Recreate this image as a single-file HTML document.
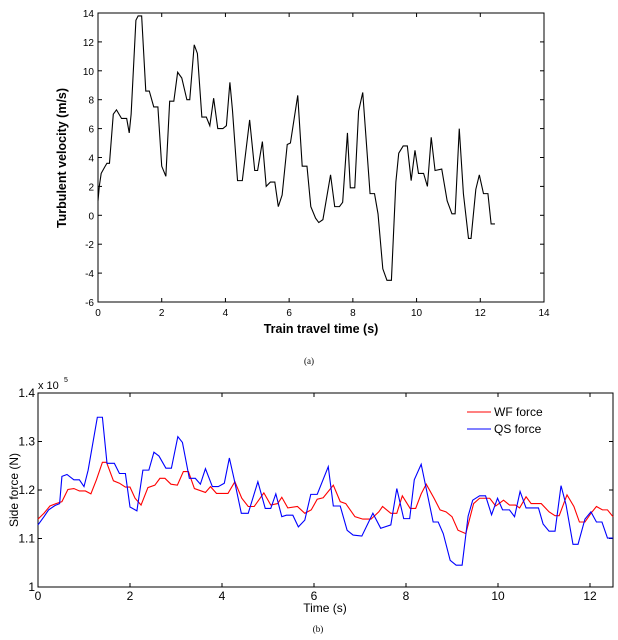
<!DOCTYPE html>
<html><head><meta charset="utf-8"><style>
body{margin:0;background:#fff;width:618px;height:640px;overflow:hidden}
svg{display:block;font-family:"Liberation Sans",Arial,sans-serif}
</style></head><body>
<svg id="s" width="618" height="640"></svg>
<script>
const topT=[0,0.04,0.1,0.2,0.28,0.36,0.48,0.58,0.74,0.9,0.98,1.04,1.19,1.26,1.37,1.5,1.61,1.75,1.88,2.0,2.13,2.25,2.38,2.5,2.63,2.79,2.88,3.02,3.12,3.26,3.4,3.51,3.63,3.76,3.92,4.03,4.14,4.22,4.38,4.53,4.76,4.92,5.01,5.16,5.28,5.41,5.55,5.66,5.78,5.94,6.04,6.27,6.41,6.56,6.68,6.83,6.93,7.06,7.3,7.43,7.58,7.68,7.83,7.92,8.06,8.18,8.31,8.54,8.68,8.79,8.94,9.07,9.21,9.35,9.44,9.58,9.71,9.83,9.95,10.06,10.22,10.34,10.46,10.58,10.79,10.96,11.11,11.21,11.34,11.47,11.63,11.71,11.86,11.97,12.1,12.24,12.34,12.46];
const topV=[1.0,2,2.9,3.3,3.6,3.6,7.0,7.3,6.7,6.7,5.7,7.0,13.5,13.8,13.8,8.6,8.6,7.5,7.5,3.4,2.7,7.9,7.9,9.9,9.5,8.0,8.0,11.8,11.2,6.8,6.8,6.2,8.1,6.0,6.0,6.2,9.2,7.3,2.4,2.4,6.6,3.1,3.1,5.1,2.0,2.3,2.3,0.6,1.4,4.9,5.0,8.3,3.4,3.4,0.6,-0.2,-0.5,-0.3,2.8,0.6,0.6,0.9,5.7,1.9,1.9,7.2,8.5,1.5,1.5,0.1,-3.7,-4.5,-4.5,2.3,4.3,4.8,4.8,2.4,4.5,2.9,2.9,2.0,5.4,3.1,3.2,1.0,0.1,0.1,6.0,1.5,-1.6,-1.6,1.8,2.8,1.5,1.5,-0.6,-0.6];
const qsT=[0,0.13,0.23,0.37,0.47,0.52,0.63,0.78,0.9,1.0,1.09,1.29,1.4,1.5,1.66,1.77,1.9,2.0,2.15,2.28,2.41,2.52,2.63,2.78,2.9,3.04,3.14,3.29,3.42,3.53,3.64,3.79,3.92,4.05,4.16,4.26,4.42,4.57,4.78,4.94,5.06,5.17,5.3,5.4,5.54,5.66,5.8,5.93,6.07,6.31,6.42,6.57,6.72,6.85,7.04,7.28,7.45,7.67,7.8,7.95,8.08,8.18,8.33,8.59,8.7,8.81,8.96,9.09,9.22,9.35,9.45,9.6,9.73,9.86,9.99,10.1,10.25,10.36,10.48,10.61,10.88,10.98,11.11,11.24,11.37,11.48,11.63,11.74,11.89,12.02,12.14,12.26,12.38,12.5];
const qsV=[1.128,1.145,1.159,1.168,1.172,1.228,1.232,1.221,1.221,1.207,1.241,1.35,1.35,1.255,1.255,1.234,1.234,1.165,1.157,1.241,1.241,1.278,1.27,1.245,1.245,1.31,1.298,1.224,1.224,1.212,1.244,1.207,1.207,1.214,1.266,1.224,1.152,1.152,1.217,1.162,1.162,1.192,1.145,1.148,1.148,1.124,1.138,1.191,1.191,1.248,1.167,1.167,1.117,1.107,1.105,1.152,1.121,1.128,1.203,1.141,1.141,1.221,1.253,1.134,1.134,1.11,1.055,1.045,1.045,1.146,1.179,1.188,1.188,1.149,1.183,1.159,1.159,1.145,1.197,1.163,1.163,1.13,1.115,1.115,1.209,1.169,1.088,1.088,1.14,1.155,1.134,1.134,1.101,1.101];
const wfT=[0,0.13,0.26,0.39,0.52,0.65,0.78,0.9,1.03,1.15,1.27,1.4,1.49,1.64,1.77,1.9,2.0,2.11,2.24,2.39,2.54,2.65,2.76,2.89,3.03,3.16,3.27,3.4,3.64,3.75,3.88,4.13,4.28,4.43,4.57,4.7,4.91,5.06,5.21,5.3,5.43,5.64,5.8,5.94,6.07,6.2,6.42,6.57,6.69,6.89,7.06,7.24,7.41,7.49,7.67,7.8,7.92,8.09,8.21,8.33,8.44,8.61,8.74,8.87,9.0,9.13,9.3,9.47,9.6,9.82,9.95,10.12,10.25,10.38,10.47,10.61,10.72,10.94,11.11,11.24,11.33,11.5,11.65,11.77,11.89,12.02,12.14,12.27,12.38,12.5];
const wfV=[1.14,1.152,1.167,1.172,1.176,1.201,1.203,1.198,1.198,1.192,1.221,1.257,1.257,1.219,1.214,1.206,1.206,1.183,1.169,1.205,1.21,1.224,1.224,1.212,1.21,1.238,1.238,1.203,1.195,1.207,1.193,1.193,1.217,1.183,1.166,1.166,1.194,1.169,1.172,1.185,1.163,1.166,1.152,1.159,1.181,1.184,1.21,1.176,1.172,1.145,1.14,1.14,1.155,1.166,1.152,1.152,1.188,1.162,1.162,1.192,1.212,1.183,1.159,1.155,1.145,1.117,1.11,1.172,1.183,1.183,1.167,1.179,1.169,1.169,1.163,1.186,1.172,1.172,1.155,1.147,1.147,1.19,1.166,1.134,1.134,1.152,1.166,1.159,1.159,1.145];
const topXTicks=[0,2,4,6,8,10,12,14];
const topYTicks=[-6,-4,-2,0,2,4,6,8,10,12,14];
const botXTicks=[0,2,4,6,8,10,12];
const botYTicks=["1","1.1","1.2","1.3","1.4"];

const S=document.getElementById('s');const NS='http://www.w3.org/2000/svg';
function mk(tag,attrs,name,txt){const e=document.createElementNS(NS,tag);for(const k in attrs)e.setAttribute(k,attrs[k]);


if(txt!==undefined)e.textContent=txt;S.appendChild(e);return e;}

// top chart
const A={x0:98,x1:544,y0:13,y1:302,xmin:0,xmax:14,ymin:-6,ymax:14};
const ax=t=>A.x0+(t-A.xmin)/(A.xmax-A.xmin)*(A.x1-A.x0);
const ay=v=>A.y1-(v-A.ymin)/(A.ymax-A.ymin)*(A.y1-A.y0);
mk('rect',{x:A.x0,y:A.y0,width:A.x1-A.x0,height:A.y1-A.y0,fill:'none',stroke:'#000','stroke-width':1},'top-plot-frame');
topXTicks.forEach(t=>{const x=ax(t);
mk('line',{x1:x,x2:x,y1:A.y1,y2:A.y1-4,stroke:'#000'},'top-x-tick');
mk('line',{x1:x,x2:x,y1:A.y0,y2:A.y0+4,stroke:'#000'},'top-x-tick-top');
mk('text',{x:x,y:A.y1+14,'font-size':10,'text-anchor':'middle'},'top-x-tick-label',String(t));});
topYTicks.forEach(v=>{const y=ay(v);
mk('line',{x1:A.x0,x2:A.x0+4,y1:y,y2:y,stroke:'#000'},'top-y-tick');
mk('line',{x1:A.x1,x2:A.x1-4,y1:y,y2:y,stroke:'#000'},'top-y-tick-right');
mk('text',{x:A.x0-4,y:y+4,'font-size':10,'text-anchor':'end'},'top-y-tick-label',String(v));});
mk('polyline',{points:topT.map((t,i)=>ax(t)+','+ay(topV[i])).join(' '),fill:'none',stroke:'#000','stroke-width':1.1},'turbulent-velocity-line');
mk('text',{x:321,y:333,'font-size':12.5,'font-weight':'bold','text-anchor':'middle'},'top-x-axis-title','Train travel time (s)');
mk('text',{x:0,y:0,'font-size':12.5,'font-weight':'bold','text-anchor':'middle',transform:'translate(66,158) rotate(-90)'},'top-y-axis-title','Turbulent velocity (m/s)');
mk('text',{x:309,y:364,'font-size':9,'text-anchor':'middle','font-family':'Liberation Serif,serif'},'caption-a','(a)');

// bottom chart
const B={x0:38,x1:613,y0:393,y1:587,xmin:0,xmax:12.5,ymin:1,ymax:1.4};
const bx=t=>B.x0+(t-B.xmin)/(B.xmax-B.xmin)*(B.x1-B.x0);
const by=v=>B.y1-(v-B.ymin)/(B.ymax-B.ymin)*(B.y1-B.y0);
mk('rect',{x:B.x0,y:B.y0,width:B.x1-B.x0,height:B.y1-B.y0,fill:'none',stroke:'#000','stroke-width':1},'bottom-plot-frame');
botXTicks.forEach(t=>{const x=bx(t);
mk('line',{x1:x,x2:x,y1:B.y1,y2:B.y1-4,stroke:'#000'},'bottom-x-tick');
mk('line',{x1:x,x2:x,y1:B.y0,y2:B.y0+4,stroke:'#000'},'bottom-x-tick-top');
mk('text',{x:x,y:B.y1+13,'font-size':12,'text-anchor':'middle'},'bottom-x-tick-label',String(t));});
botYTicks.forEach(s=>{const y=by(parseFloat(s));
mk('line',{x1:B.x0,x2:B.x0+4,y1:y,y2:y,stroke:'#000'},'bottom-y-tick');
mk('line',{x1:B.x1,x2:B.x1-4,y1:y,y2:y,stroke:'#000'},'bottom-y-tick-right');
mk('text',{x:B.x0-3,y:y+4,'font-size':12,'text-anchor':'end'},'bottom-y-tick-label',s);});
mk('text',{x:38,y:389,'font-size':11},'y-scale-exponent','x 10');
mk('text',{x:64,y:382,'font-size':7},'y-scale-exponent-power','5');
mk('polyline',{points:wfT.map((t,i)=>bx(t)+','+by(wfV[i])).join(' '),fill:'none',stroke:'#f00','stroke-width':1.1},'wf-force-line');
mk('polyline',{points:qsT.map((t,i)=>bx(t)+','+by(qsV[i])).join(' '),fill:'none',stroke:'#00f','stroke-width':1.1},'qs-force-line');
mk('line',{x1:467,x2:491,y1:412,y2:412,stroke:'#f00'},'legend-wf-swatch');
mk('text',{x:494,y:416,'font-size':12},'legend-wf-label','WF force');
mk('line',{x1:467,x2:491,y1:429,y2:429,stroke:'#00f'},'legend-qs-swatch');
mk('text',{x:494,y:433,'font-size':12},'legend-qs-label','QS force');
mk('text',{x:325,y:612,'font-size':12,'text-anchor':'middle'},'bottom-x-axis-title','Time (s)');
mk('text',{x:0,y:0,'font-size':12,'text-anchor':'middle',transform:'translate(18,490) rotate(-90)'},'bottom-y-axis-title','Side force (N)');
mk('text',{x:318,y:632,'font-size':9,'text-anchor':'middle','font-family':'Liberation Serif,serif'},'caption-b','(b)');
</script>
</body></html>
